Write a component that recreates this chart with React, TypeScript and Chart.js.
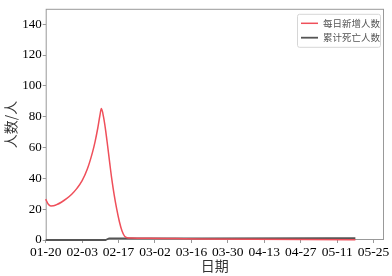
import React, { useEffect, useRef } from "react";
import { Chart, registerables } from "chart.js";

Chart.register(...registerables);

// Days since 01-20 (2020)
const xTickDays = [0, 14, 28, 42, 56, 70, 84, 98, 112, 126];
const xTickLabels = ["01-20", "02-03", "02-17", "03-02", "03-16", "03-30", "04-13", "04-27", "05-11", "05-25"];
const yTicks = [0, 20, 40, 60, 80, 100, 120, 140];

const newDays = [0, 1, 2, 3, 4, 6, 8, 10, 12, 14, 16, 18, 19, 20, 20.8, 21.4, 22.2, 23, 23.8, 24.6, 25.4, 26.3, 27.3, 28.3, 29.3, 30.3, 31.3, 33, 40, 50, 60, 80, 100, 119];
const newValues = [26.5, 23.2, 22.1, 22.2, 22.8, 24.5, 26.8, 29.7, 33.5, 38.5, 46, 57, 64, 72.5, 80.5, 85.3, 80, 71.5, 61, 50, 39.5, 29.5, 20, 12, 6, 2.5, 1.5, 1.3, 1.1, 0.9, 0.7, 0.45, 0.3, 0.2];

const deathDays = [0, 23, 23.6, 24.4, 30, 60, 119];
const deathValues = [0, 0, 0.5, 1, 1.05, 1.1, 1.15];

const seriesLabels = ["每日新增人数", "累计死亡人数"];
const seriesColors = ["#ef4f5a", "#555555"];

const framePlugin = {
  id: "frame",
  beforeDatasetsDraw(chart: any) {
    const { ctx, chartArea } = chart;
    ctx.save();
    ctx.strokeStyle = "#999999";
    ctx.lineWidth = 1;
    ctx.strokeRect(chartArea.left + 0.5, chartArea.top + 0.5, chartArea.right - chartArea.left - 1, chartArea.bottom - chartArea.top - 1);
    ctx.restore();
  },
  afterDatasetsDraw(chart: any) {
    const { ctx, chartArea } = chart;
    const bx = chartArea.right - 87;
    const by = chartArea.top + 5;
    const bw = 83;
    const bh = 33;
    ctx.save();
    ctx.fillStyle = "rgba(255,255,255,0.85)";
    ctx.strokeStyle = "#d6d6d6";
    ctx.lineWidth = 1;
    ctx.beginPath();
    if (ctx.roundRect) ctx.roundRect(bx + 0.5, by + 0.5, bw, bh, 2);
    else ctx.rect(bx + 0.5, by + 0.5, bw, bh);
    ctx.fill();
    ctx.stroke();
    ctx.font = "9.5px 'Noto Sans CJK SC'";
    ctx.textBaseline = "middle";
    ctx.textAlign = "left";
    chart.data.datasets.forEach((ds: any, i: number) => {
      const y = by + 9.5 + i * 14.4;
      ctx.strokeStyle = ds.borderColor;
      ctx.lineWidth = ds.borderWidth;
      ctx.beginPath();
      ctx.moveTo(bx + 4, y);
      ctx.lineTo(bx + 21, y);
      ctx.stroke();
      ctx.fillStyle = "#555";
      ctx.fillText(ds.label, bx + 26, y);
    });
    ctx.restore();
  },
};

export default function App() {
  const ref = useRef<HTMLCanvasElement>(null);
  useEffect(() => {
    if (!ref.current) return;
    const chart = new Chart(ref.current, {
      type: "line",
      data: {
        datasets: [
          {
            label: seriesLabels[0],
            data: newDays.map((d, i) => ({ x: d, y: newValues[i] })),
            borderColor: seriesColors[0],
            borderWidth: 1.5,
            pointRadius: 0,
            cubicInterpolationMode: "monotone",
            clip: false as any,
          },
          {
            label: seriesLabels[1],
            data: deathDays.map((d, i) => ({ x: d, y: deathValues[i] })),
            borderColor: seriesColors[1],
            borderWidth: 1.8,
            pointRadius: 0,
            cubicInterpolationMode: "monotone",
            clip: false as any,
          },
        ],
      },
      options: {
        animation: false,
        responsive: false,
        devicePixelRatio: 1,
        layout: { padding: { left: 0, right: 8, top: 4, bottom: 0 } },
        plugins: { legend: { display: false }, tooltip: { enabled: false } },
        scales: {
          x: {
            type: "linear",
            min: 0,
            max: 130,
            afterBuildTicks: (scale: any) => {
              scale.ticks = xTickDays.map((v) => ({ value: v }));
            },
            afterFit: (scale: any) => {
              scale.height = 36;
            },
            ticks: {
              autoSkip: false,
              maxRotation: 0,
              padding: 1,
              color: "#000",
              font: { family: "'Liberation Serif'", size: 13.5 },
              callback: (v: any) => {
                const idx = xTickDays.indexOf(Number(v));
                return idx >= 0 ? xTickLabels[idx] : "";
              },
            },
            grid: { drawOnChartArea: false, tickLength: 3, color: "#999" },
            border: { display: false },
            title: {
              display: true,
              text: "日期",
              color: "#333",
              font: { family: "'Noto Sans CJK SC'", size: 14 },
              padding: { top: 0, bottom: 2 },
            },
          },
          y: {
            type: "linear",
            min: 0,
            max: 150,
            afterBuildTicks: (scale: any) => {
              scale.ticks = yTicks.map((v) => ({ value: v }));
            },
            afterFit: (scale: any) => {
              scale.width = 45.7;
            },
            ticks: {
              padding: 1,
              color: "#000",
              font: { family: "'Liberation Serif'", size: 13 },
            },
            grid: { drawOnChartArea: false, tickLength: 3, color: "#999" },
            border: { display: false },
            title: {
              display: true,
              text: "人数/人",
              color: "#333",
              font: { family: "'Noto Sans CJK SC'", size: 14 },
              padding: { top: 2, bottom: 0 },
            },
          },
        },
      },
      plugins: [framePlugin],
    });
    return () => chart.destroy();
  }, []);
  return (
    <div style={{ position: "absolute", left: 0, top: 0, width: 392, height: 276, background: "#fff" }}>
      <canvas ref={ref} width={392} height={276} />
    </div>
  );
}
